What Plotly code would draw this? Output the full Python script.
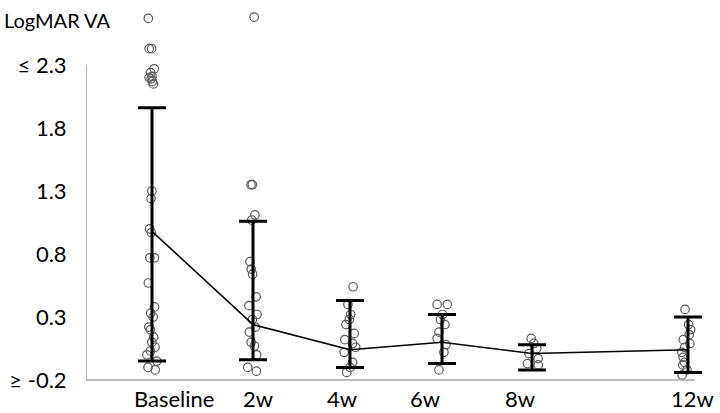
import plotly.graph_objects as go

# ---- data ----
categories = ["Baseline", "2w", "4w", "6w", "8w", "12w"]
baseline = [2.67, 2.43, 2.43, 2.27, 2.24, 2.21, 2.19, 2.17, 2.15, 2.2, 1.3, 1.24, 1.0, 0.97,
            0.77, 0.77, 0.57, 0.38, 0.33, 0.3, 0.22, 0.2, 0.14, 0.1, 0.06, 0.03, 0.0, -0.05, -0.1, -0.12]
week2 = [2.68, 1.35, 1.35, 1.11, 1.07, 0.74, 0.68, 0.64, 0.46, 0.39, 0.32, 0.28, 0.22, 0.18,
         0.1, 0.07, 0.0, -0.1, -0.13]
week4 = [0.54, 0.40, 0.32, 0.28, 0.24, 0.17, 0.12, 0.09, 0.06, 0.02, -0.06, -0.1, -0.14]
week6 = [0.4, 0.4, 0.32, 0.28, 0.24, 0.18, 0.13, 0.08, 0.02, -0.12]
week8 = [0.13, 0.09, 0.05, 0.01, -0.03, -0.07, -0.08]
week12 = [0.36, 0.24, 0.2, 0.16, 0.12, 0.09, 0.06, 0.02, -0.02, -0.06, -0.08, -0.12, -0.16]
groups = [baseline, week2, week4, week6, week8, week12]

means = [0.98, 0.24, 0.04, 0.10, 0.01, 0.04]
upper = [1.96, 1.06, 0.43, 0.32, 0.08, 0.30]
lower = [-0.05, -0.04, -0.10, -0.07, -0.12, -0.14]

y_ticks = [-0.2, 0.3, 0.8, 1.3, 1.8, 2.3]
y_ticktext = ["\u2265 -0.2", "0.3", "0.8", "1.3", "1.8", "\u2264 2.3"]

# ---- layout constants (pixel-like x units) ----
W, H = 720, 413
ML, MR, MT, MB = 86, 15, 0, 25
PW, PH = W - ML - MR, H - MT - MB
col_pos = [152, 253, 350, 442, 532, 688]
label_pos = [174, 258, 342, 425, 520, 692]
FONT = "Lato"

xs, ys = [], []
for p, g in zip(col_pos, groups):
    xs += [p] * len(g)
    ys += g

fig = go.Figure()
fig.add_trace(go.Box(
    x=xs, y=ys, boxpoints="all", jitter=0.9, pointpos=0, width=14,
    fillcolor="rgba(0,0,0,0)", line=dict(width=0, color="rgba(0,0,0,0)"),
    marker=dict(symbol="circle-open", size=8.5, color="#5a5a5a", line=dict(width=1.2)),
    showlegend=False, hoverinfo="y",
))
fig.add_trace(go.Scatter(
    x=col_pos, y=means, mode="lines",
    line=dict(color="black", width=1.6),
    error_y=dict(type="data", symmetric=False,
                 array=[u - m for u, m in zip(upper, means)],
                 arrayminus=[m - l for m, l in zip(means, lower)],
                 color="black", thickness=3, width=14),
    showlegend=False,
))

# axis lines (only spanning -0.2 .. 2.3 like the original)
fig.add_shape(type="line", xref="x", yref="y", x0=86, x1=86, y0=-0.2, y1=2.3,
              line=dict(color="#a6a6a6", width=1.6))
fig.add_shape(type="line", xref="x", yref="y", x0=86, x1=695, y0=-0.2, y1=-0.2,
              line=dict(color="#a6a6a6", width=1.6))

fig.add_annotation(text="LogMAR VA", xref="paper", yref="paper",
                   x=(3 - ML) / PW, y=(PH - 20) / PH,
                   xanchor="left", yanchor="middle", showarrow=False, borderpad=0,
                   font=dict(family=FONT, size=20, color="black"))

# category labels below the horizontal axis line
for lp, cat in zip(label_pos, categories):
    fig.add_annotation(text=cat, xref="x", yref="paper", x=lp, y=(PH - 399) / PH,
                       xanchor="center", yanchor="middle", showarrow=False, borderpad=0,
                       font=dict(family=FONT, size=22, color="black"))

fig.update_layout(
    width=W, height=H,
    margin=dict(l=ML, r=MR, t=MT, b=MB),
    paper_bgcolor="white", plot_bgcolor="white",
    font=dict(family=FONT, size=22, color="black"),
    xaxis=dict(range=[86, 705], showticklabels=False,
               showgrid=False, zeroline=False, showline=False, ticks=""),
    yaxis=dict(range=[-0.2635, 2.816], tickvals=y_ticks, ticktext=y_ticktext,
               showgrid=False, zeroline=False, showline=False,
               ticks="outside", ticklen=14, tickcolor="rgba(0,0,0,0)"),
)

fig.write_html("out.html", config={"displayModeBar": False},
               post_script="document.body.style.margin='0';")
